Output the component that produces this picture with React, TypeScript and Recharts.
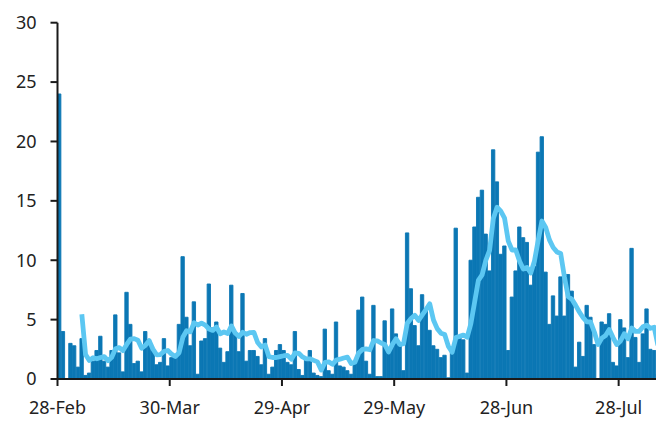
import React from 'react';
import { ComposedChart, Bar, Line, XAxis, YAxis } from 'recharts';

// Daily values, one per day from 28-Feb (161 days)
const dailyValues = [
  24, 4.0, 0, 3.0, 2.8, 1.0, 3.4, 0.3, 0.5, 1.5,
  2.4, 3.6, 1.5, 1.0, 2.4, 5.4, 2.2, 0.6, 7.3, 4.6,
  1.3, 1.5, 0.6, 4.0, 3.3, 2.4, 1.2, 1.4, 3.4, 1.1,
  1.8, 2.0, 4.6, 10.3, 5.2, 2.8, 6.5, 0.4, 3.2, 3.4,
  8.0, 4.3, 4.8, 2.6, 1.4, 2.3, 7.9, 3.8, 2.3, 7.2,
  1.5, 2.4, 2.4, 1.9, 1.2, 3.4, 0.4, 1.0, 2.4, 2.9,
  2.4, 1.4, 1.2, 4.0, 0.8, 0.3, 1.8, 2.4, 0.5, 0.3,
  0.2, 4.2, 0.7, 0.4, 4.8, 1.1, 1.0, 0.7, 0.4, 1.5,
  5.8, 6.9, 1.5, 0.4, 6.2, 0.2, 0.2, 4.9, 2.5, 5.9,
  3.8, 2.8, 0.7, 12.3, 7.6, 4.5, 2.8, 7.1, 5.9, 4.1,
  2.8, 2.5, 1.8, 2.0, 0.1, 2.5, 12.7, 3.5, 3.3, 0.5,
  10.0, 12.8, 15.3, 15.9, 12.2, 9.1, 19.3, 16.6, 10.5, 11.2,
  2.4, 6.9, 9.1, 12.8, 11.9, 11.5, 7.9, 9.5, 19.1, 20.4,
  9.0, 4.6, 7.0, 5.3, 8.6, 5.3, 8.8, 7.4, 1.0, 3.1,
  1.9, 6.2, 5.2, 2.9, 0, 4.8, 4.6, 5.5, 1.4, 1.1,
  5.0, 4.3, 1.8, 11.0, 3.5, 1.4, 3.8, 5.9, 2.5, 2.4,
  0.4,
];

// 7-day average line, starts on the 7th day
const averageValues = [
  null, null, null, null, null, null, 5.46, 2.07, 1.57, 1.79,
  1.70, 1.81, 1.89, 1.54, 1.84, 2.54, 2.64, 2.39, 2.91, 3.36,
  3.40, 3.27, 2.59, 2.84, 3.23, 2.53, 2.04, 2.06, 2.33, 2.40,
  2.09, 1.90, 2.21, 3.51, 4.06, 3.97, 4.74, 4.54, 4.71, 4.54,
  4.21, 4.09, 4.37, 3.81, 3.96, 3.83, 4.47, 3.87, 3.59, 3.93,
  3.77, 3.91, 3.93, 3.07, 2.70, 2.86, 1.89, 1.81, 1.81, 1.89,
  1.96, 1.99, 1.67, 2.19, 2.16, 1.86, 1.70, 1.70, 1.57, 1.44,
  0.75, 1.39, 1.44, 1.24, 1.59, 1.67, 1.77, 1.84, 1.30, 1.41,
  2.19, 2.49, 2.54, 2.46, 3.24, 3.21, 3.03, 2.90, 2.27, 2.90,
  3.39, 2.90, 2.97, 4.70, 5.09, 5.37, 4.93, 5.40, 5.84, 6.33,
  4.97, 4.24, 3.86, 3.74, 2.74, 2.26, 3.49, 3.59, 3.70, 3.51,
  4.66, 6.47, 8.30, 8.76, 10.0, 10.83, 13.51, 14.46, 14.13, 13.54,
  11.61, 10.86, 10.86, 9.93, 9.26, 9.40, 8.93, 9.94, 11.69, 13.30,
  12.76, 11.71, 11.07, 10.70, 10.57, 8.60, 6.94, 6.71, 6.20, 5.64,
  5.16, 4.81, 4.80, 3.96, 2.90, 3.44, 3.66, 4.17, 3.49, 2.90,
  3.20, 3.81, 3.39, 4.30, 4.01, 4.01, 4.40, 4.53, 4.27, 4.36,
  2.84,
];

const dateLabels = ['28-Feb', '30-Mar', '29-Apr', '29-May', '28-Jun', '28-Jul'];
const yTicks = [0, 5, 10, 15, 20, 25, 30];

const CHART_W = 654;
const CHART_H = 411;
const MARGIN = { top: 14.7, right: 2.2, left: 0, bottom: 0 };
const Y_AXIS_W = 49.5;
const BAND = (CHART_W - MARGIN.left - MARGIN.right - Y_AXIS_W) / dailyValues.length;

const FONT = '"Noto Sans", sans-serif';
const AXIS_COLOR = '#1a1a1a';
const BAR_COLOR = '#0b77b4';

const data = dailyValues.map((v, i) => ({ day: i, value: v, avg: averageValues[i] }));

/**
 * Date ticks sit on the left edge of the day's band, like the original
 */
function DateTick({ x, y, payload, index }: any) {
  const left = x - BAND / 2;
  const label = dateLabels[Math.round(payload.value / 30)];
  return (
    <g key={`tick-${index}`}>
      <line x1={left} x2={left} y1={y} y2={y + 7} stroke={AXIS_COLOR} strokeWidth={2} />
      <text
        x={left}
        y={y + 22}
        dy="0.71em"
        textAnchor="middle"
        fill="#222"
        style={{ fontSize: 18, fontFamily: FONT }}
      >
        {label}
      </text>
    </g>
  );
}

export default function App() {
  return (
    <div style={{ width: CHART_W, height: CHART_H, background: '#fff' }}>
      <ComposedChart width={CHART_W} height={CHART_H} data={data} margin={MARGIN} barCategoryGap={0}>
        <XAxis
          dataKey="day"
          type="category"
          interval={29}
          height={40}
          tickSize={0}
          tickMargin={0}
          tickLine={false}
          axisLine={{ stroke: AXIS_COLOR, strokeWidth: 2 }}
          tick={<DateTick />}
        />
        <YAxis
          type="number"
          domain={[0, 30]}
          ticks={yTicks}
          interval={0}
          width={Y_AXIS_W}
          tickSize={7}
          tickMargin={14}
          axisLine={{ stroke: AXIS_COLOR, strokeWidth: 2 }}
          tickLine={{ stroke: AXIS_COLOR, strokeWidth: 2 }}
          tick={{ fill: '#222', fontSize: 18, fontFamily: FONT }}
        />
        <Bar
          dataKey="value"
          fill={BAR_COLOR}
          stroke={BAR_COLOR}
          strokeWidth={0.9}
          barSize={BAND}
          isAnimationActive={false}
        />
        <Line
          dataKey="avg"
          type="linear"
          stroke="#5cc7f2"
          strokeWidth={4.8}
          strokeLinejoin="round"
          dot={false}
          activeDot={false}
          isAnimationActive={false}
        />
      </ComposedChart>
    </div>
  );
}
